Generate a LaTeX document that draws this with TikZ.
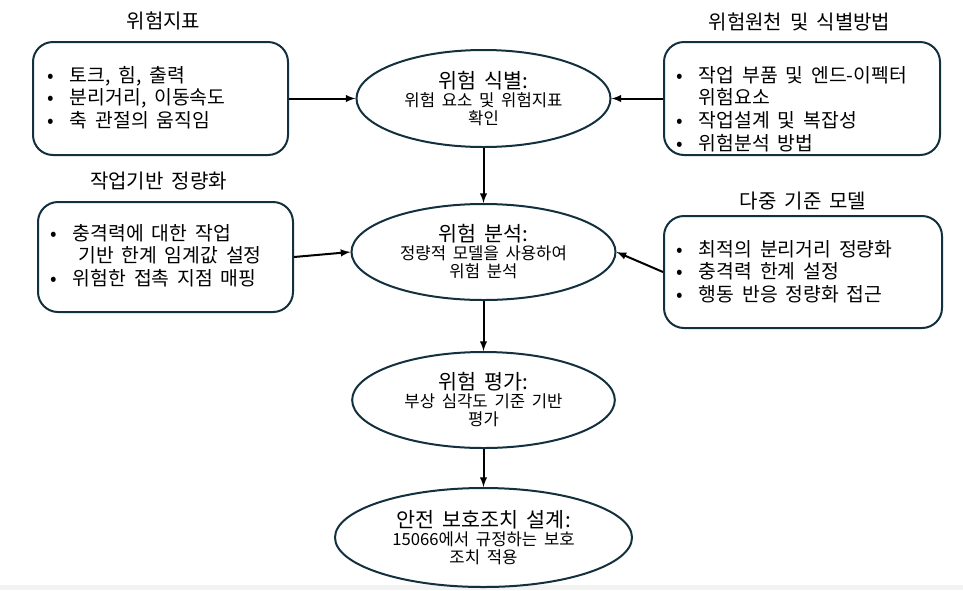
\documentclass[tikz,border=0pt]{standalone}
\usepackage{fontspec}
\setmainfont[WordSpace=1.8]{Noto Sans CJK KR}
\usetikzlibrary{shapes.geometric}

\definecolor{navyline}{HTML}{13303F}
\newcommand{\itm}{\makebox[17pt][l]{\textbullet}}
\newcommand{\steptitle}[1]{{\fontsize{15.5}{18}\selectfont #1}}

\begin{document}
\begin{tikzpicture}[x=0.75pt, y=-0.75pt]

\tikzset{StepEllipse/.style = {ellipse, draw=navyline, line width=1.5pt, inner sep=0pt, align=center, font=\fontsize{12.5}{13.5}\selectfont},
  InfoBox/.style = {draw=navyline, line width=1.5pt, rounded corners=15pt},
  BoxTitle/.style = {font=\fontsize{15}{18}\selectfont},
  BoxList/.style = {anchor=west, align=left, inner sep=0pt, font=\fontsize{14.5}{17}\selectfont},
  Flow/.style = {line width=1.5pt, -latex}}

\useasboundingbox (0,0) rectangle (963,590);
\fill[gray!10] (0,585) rectangle (963,590);

% process steps
\node[StepEllipse, minimum width=190.5pt, minimum height=72.75pt] (identify) at (483.5,98.5) {\steptitle{위험 식별:}\\ 위험 요소 및 위험지표\\ 확인};
\node[StepEllipse, minimum width=198pt, minimum height=72pt] (analyze) at (483.5,252) {\steptitle{위험 분석:}\\ 정량적 모델을 사용하여\\ 위험 분석};
\node[StepEllipse, minimum width=197pt, minimum height=72pt] (evaluate) at (483.5,400) {\steptitle{위험 평가:}\\ 부상 심각도 기준 기반\\ 평가};
\node[StepEllipse, minimum width=222.75pt, minimum height=74.25pt] (safeguard) at (483.5,537.5) {\steptitle{안전 보호조치 설계:}\\ 15066에서 규정하는 보호\\ 조치 적용};

% input boxes
\node[InfoBox, minimum width=191.25pt, minimum height=84.75pt] (indicator) at (160.5,98.5) {};
\node[BoxTitle] (indicatorT) at (163.5,21) {위험지표};
\node[BoxList] (indicatorL) at (47,97.5) {\itm 토크, 힘, 출력\\ \itm 분리거리, 이동속도\\ \itm 축 관절의 움직임};

\node[InfoBox, minimum width=207pt, minimum height=84.75pt] (source) at (802,98.5) {};
\node[BoxTitle] (sourceT) at (799.5,22) {위험원천 및 식별방법};
\node[BoxList] (sourceL) at (676,109) {\itm 작업 부품 및 엔드-이펙터\\ \hspace*{17pt}위험요소\\ \itm 작업설계 및 복잡성\\ \itm 위험분석 방법};

\node[InfoBox, minimum width=191.25pt, minimum height=82.5pt] (quantify) at (165.5,257) {};
\node[BoxTitle] (quantifyT) at (158.5,181) {작업기반 정량화};
\node[BoxList] (quantifyL) at (50,255.5) {\itm 충격력에 대한 작업\\ \hspace*{21pt}기반 한계 임계값 설정\\ \itm 위험한 접촉 지점 매핑};

\node[InfoBox, minimum width=208.5pt, minimum height=84pt] (model) at (803,272) {};
\node[BoxTitle] (modelT) at (803,201) {다중 기준 모델};
\node[BoxList] (modelL) at (676,271.5) {\itm 최적의 분리거리 정량화\\ \itm 충격력 한계 설정\\ \itm 행동 반응 정량화 접근};

% connectors
\draw[Flow] (indicator) -- (identify);
\draw[Flow] (source) -- (identify);
\draw[Flow] (identify) -- (analyze);
\draw[Flow] (quantify.east) -- (analyze.west);
\draw[Flow] (model.west) -- (analyze.east);
\draw[Flow] (analyze) -- (evaluate);
\draw[Flow] (evaluate) -- (safeguard);

\end{tikzpicture}
\end{document}
